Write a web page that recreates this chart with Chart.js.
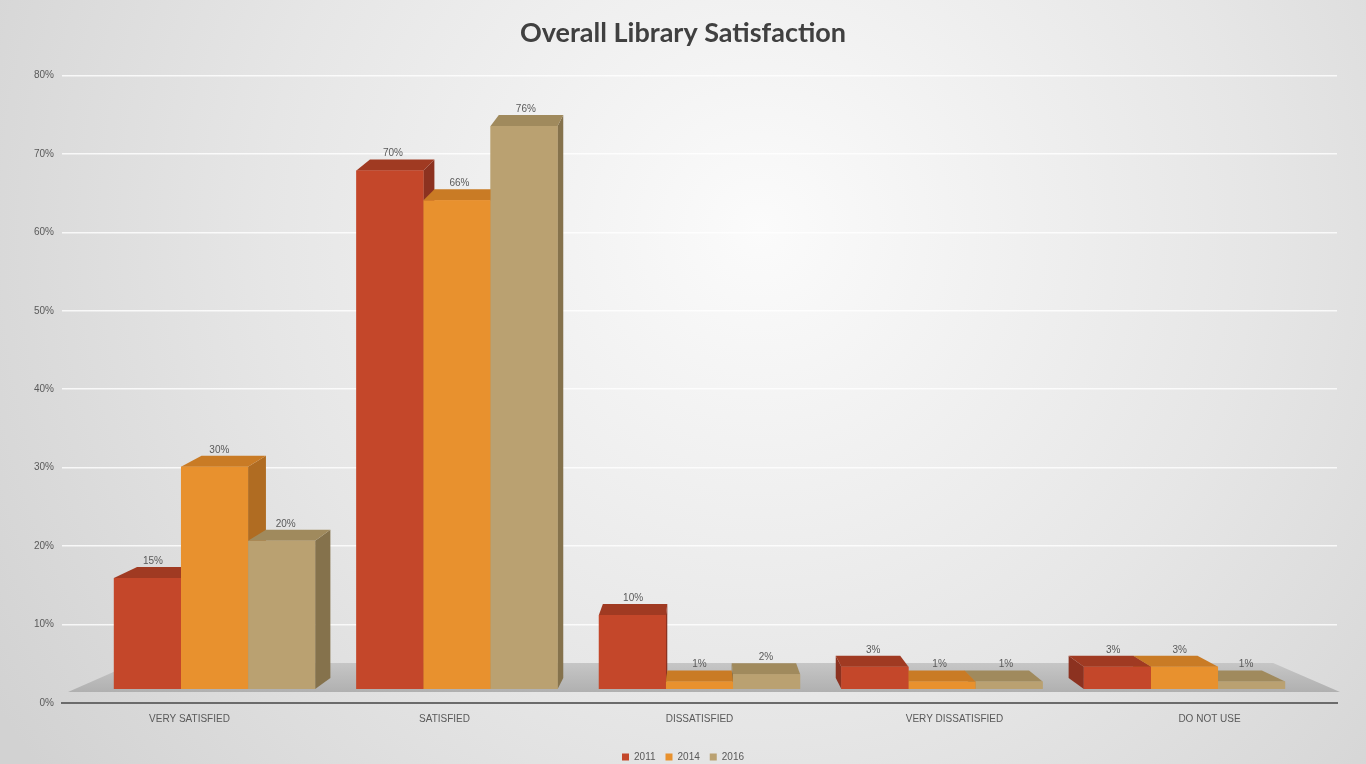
<!DOCTYPE html>
<html>
<head>
<meta charset="utf-8">
<title>Overall Library Satisfaction</title>
<script src="https://cdn.jsdelivr.net/npm/chart.js@4/dist/chart.umd.min.js"></script>
<style>
  html, body { margin: 0; padding: 0; overflow: hidden; background: #dcdcdc; }
  #wrap { width: 1366px; height: 764px; position: relative; }
  canvas { display: block; }
</style>
</head>
<body>
<div id="wrap"><canvas id="chart" width="1366" height="764"></canvas></div>
<script>
// Survey answers per year (share of respondents, %)
const categories = ['VERY SATISFIED', 'SATISFIED', 'DISSATISFIED', 'VERY DISSATISFIED', 'DO NOT USE'];
const years = ['2011', '2014', '2016'];
const values2011 = [15, 70, 10, 3, 3];
const values2014 = [30, 66, 1, 1, 3];
const values2016 = [20, 76, 2, 1, 1];
const yTickValues = [0, 10, 20, 30, 40, 50, 60, 70, 80];

// Face colours of the column boxes: front, top, side
const frontColors = ['#c4472a', '#e8912e', '#baa171'];
const topColors   = ['#a03a22', '#c97b25', '#a08a5d'];
const sideColors  = ['#8c3220', '#b06c22', '#85724c'];

const TEXT = '#595959';
const SMALL_FONT = { family: 'Liberation Sans', size: 10 };

// Pseudo-3D helpers: depth goes "up" on screen and converges to the centre
const BAR_DEPTH = 11;
const FLOOR_FRONT = 3;
const FLOOR_BACK = 29;
const SKEW = 0.0036;
function project(vx, x, y, d) {
  return [x + (vx - x) * SKEW * d, y - d];
}
function fillPoly(ctx, pts, color) {
  ctx.beginPath();
  ctx.moveTo(pts[0][0], pts[0][1]);
  for (let i = 1; i < pts.length; i++) ctx.lineTo(pts[i][0], pts[i][1]);
  ctx.closePath();
  ctx.fillStyle = color;
  ctx.fill();
}

const backdrop = {
  id: 'backdrop',
  beforeDraw(chart) {
    const { ctx, width, height } = chart;
    ctx.save();
    const g = ctx.createRadialGradient(760, 230, 0, 760, 230, 900);
    g.addColorStop(0, '#fbfbfb');
    g.addColorStop(0.55, '#e6e6e6');
    g.addColorStop(1, '#d2d2d2');
    ctx.fillStyle = g;
    ctx.fillRect(0, 0, width, height);
    ctx.restore();
  }
};

const columns3d = {
  id: 'columns3d',
  beforeDatasetsDraw(chart) {
    // floor plane under the columns
    const { ctx, chartArea } = chart;
    const vx = (chartArea.left + chartArea.right) / 2;
    const y0 = chart.scales.yb.getPixelForValue(0);
    const yF = y0 + FLOOR_FRONT;
    const L = chartArea.left + 6, R = chartArea.right + 3;
    const pts = [
      [L, yF], [R, yF],
      project(vx, R, yF, FLOOR_BACK), project(vx, L, yF, FLOOR_BACK)
    ];
    ctx.save();
    const g = ctx.createLinearGradient(0, yF - FLOOR_BACK, 0, yF);
    g.addColorStop(0, '#c6c6c6');
    g.addColorStop(1, '#b0b0b0');
    fillPoly(ctx, pts, g);
    ctx.restore();
  },
  afterDatasetsDraw(chart) {
    const { ctx, chartArea } = chart;
    const vx = (chartArea.left + chartArea.right) / 2;
    const items = [];
    chart.data.datasets.forEach((ds, di) => {
      chart.getDatasetMeta(di).data.forEach((bar, i) => items.push({ bar, di, i }));
    });
    // paint far-from-centre boxes first so nearer ones overlap them
    items.sort((a, b) => Math.abs(b.bar.x - vx) - Math.abs(a.bar.x - vx));
    ctx.save();
    for (const { bar, di } of items) {
      const { x, y, base, width } = bar.getProps(['x', 'y', 'base', 'width'], true);
      const x1 = x - width / 2, x2 = x + width / 2;
      const tl = project(vx, x1, y, BAR_DEPTH);
      const tr = project(vx, x2, y, BAR_DEPTH);
      if (x < vx) {
        fillPoly(ctx, [[x2, y], [x2, base], project(vx, x2, base, BAR_DEPTH), tr], sideColors[di]);
      } else {
        fillPoly(ctx, [[x1, y], [x1, base], project(vx, x1, base, BAR_DEPTH), tl], sideColors[di]);
      }
      fillPoly(ctx, [[x1, y], [x2, y], tr, tl], topColors[di]);
      bar.draw(ctx);
    }
    // value labels above each column
    ctx.fillStyle = TEXT;
    ctx.font = '10px "Liberation Sans"';
    ctx.textAlign = 'center';
    ctx.textBaseline = 'bottom';
    for (const { bar, di, i } of items) {
      const { x, y } = bar.getProps(['x', 'y'], true);
      const p = project(vx, x, y, BAR_DEPTH);
      const v = chart.data.datasets[di].data[i].y;
      ctx.fillText(v + '%', x + (p[0] - x) * 0.25, p[1] - 1);
    }
    ctx.restore();
  }
};

const seriesValues = [values2011, values2014, values2016];
const datasets = years.map((yr, k) => ({
  label: yr,
  data: seriesValues[k].map((v, i) => ({ x: i, y: v })),
  backgroundColor: frontColors[k],
  borderWidth: 0,
  xAxisID: 'xb',
  yAxisID: 'yb',
  categoryPercentage: 0.83,
  barPercentage: 1.0
}));

new Chart(document.getElementById('chart'), {
  type: 'bar',
  data: { labels: categories, datasets },
  plugins: [backdrop, columns3d],
  options: {
    responsive: false,
    animation: false,
    devicePixelRatio: 1,
    layout: { padding: { left: 0, right: 0, top: 0, bottom: -8 } },
    plugins: {
      title: {
        display: true,
        text: 'Overall Library Satisfaction',
        color: '#404040',
        font: { family: 'Lato', size: 27, weight: 'bold' },
        padding: { top: 17, bottom: 26 }
      },
      legend: {
        position: 'bottom',
        labels: { boxWidth: 7, boxHeight: 7, padding: 10, color: TEXT, font: SMALL_FONT }
      },
      tooltip: { enabled: false }
    },
    scales: {
      x: {
        type: 'category',
        labels: categories,
        offset: true,
        grid: { display: false, drawTicks: false },
        border: { display: true, color: '#6b6b6b', width: 2 },
        ticks: { padding: 10, color: TEXT, font: SMALL_FONT, maxRotation: 0, autoSkip: false },
        afterFit(s) { s.height = 39; }
      },
      xb: {
        type: 'linear',
        display: false,
        offset: false,
        min: -0.629,
        max: 4.629,
        afterBuildTicks(s) { s.ticks = categories.map((c, i) => ({ value: i })); }
      },
      y: {
        type: 'linear',
        position: 'left',
        min: 0,
        max: 80,
        afterBuildTicks(s) { s.ticks = yTickValues.map(v => ({ value: v })); },
        ticks: { callback: v => v + '%', padding: 8, color: TEXT, font: SMALL_FONT },
        grid: { color: 'rgba(255,255,255,0.8)', lineWidth: 1.5, drawTicks: false },
        border: { display: false },
        afterFit(s) { s.width = 62; }
      },
      // empty right-hand margin column
      yr: {
        type: 'linear',
        position: 'right',
        display: true,
        grid: { display: false, drawTicks: false },
        border: { display: false },
        ticks: { display: false },
        afterFit(s) { s.width = 29; }
      },
      yb: { type: 'linear', display: false, min: -1.89, max: 82.84 }
    }
  }
});
</script>
</body>
</html>
